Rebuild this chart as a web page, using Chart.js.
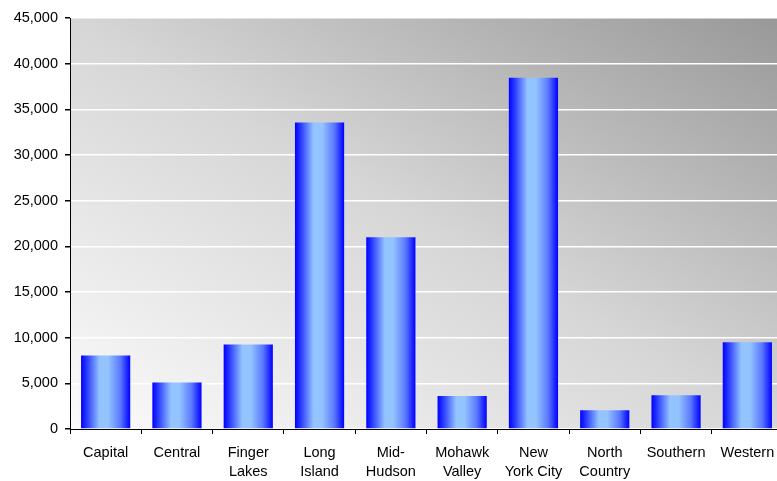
<!DOCTYPE html>
<html>
<head>
<meta charset="utf-8">
<script src="https://cdn.jsdelivr.net/npm/chart.js@4/dist/chart.umd.min.js"></script>
<style>
  html, body { margin: 0; padding: 0; background: #ffffff; overflow: hidden; }
  #wrap { position: relative; width: 785px; height: 481px; }
</style>
</head>
<body>
<div id="wrap"><canvas id="chart"></canvas></div>
<script>
// Regions and their totals
const regions = [
  ['Capital'], ['Central'], ['Finger', 'Lakes'], ['Long', 'Island'], ['Mid-', 'Hudson'],
  ['Mohawk', 'Valley'], ['New', 'York City'], ['North', 'Country'], ['Southern'], ['Western']
];
const totals = [8050, 5100, 9250, 33550, 21000, 3600, 38450, 2050, 3700, 9500];

const yMax = 45000;
const yStep = 5000;

const BAR_PCT = 0.69;

// Plot-area backdrop: light at bottom-left, grey toward top-right,
// laid out along the diagonal of the plot rectangle
const backdrop = {
  id: 'backdrop',
  beforeDraw(chart) {
    const { ctx, chartArea: a } = chart;
    const w = a.right - a.left, h = a.bottom - a.top;
    ctx.save();
    ctx.translate(a.left, a.top);
    ctx.scale(w, h);
    const g = ctx.createLinearGradient(0, 1, 1, 0);
    g.addColorStop(0, '#fbfbfb');
    g.addColorStop(0.5, '#d6d6d6');
    g.addColorStop(1, '#989898');
    ctx.fillStyle = g;
    ctx.fillRect(0, 0, 1, 1);
    ctx.restore();
  }
};

// Cylinder-like horizontal shading across each bar
function barFill(context) {
  const chart = context.chart;
  const xs = chart.scales && chart.scales.x;
  if (!chart.chartArea || !xs || context.dataIndex === undefined) return '#3366ff';
  const cx = xs.getPixelForValue(context.dataIndex);
  const half = (xs.width / regions.length) * BAR_PCT / 2;
  if (!isFinite(cx) || !isFinite(half)) return '#3366ff';
  const g = chart.ctx.createLinearGradient(cx - half, 0, cx + half, 0);
  g.addColorStop(0, '#0000ff');
  g.addColorStop(0.12, '#2a3cff');
  g.addColorStop(0.38, '#94c4ff');
  g.addColorStop(0.55, '#94c4ff');
  g.addColorStop(0.8, '#5a78ff');
  g.addColorStop(1, '#0000ff');
  return g;
}

new Chart(document.getElementById('chart'), {
  type: 'bar',
  data: {
    labels: regions,
    datasets: [{
      data: totals,
      backgroundColor: barFill,
      borderWidth: 0,
      barPercentage: BAR_PCT,
      categoryPercentage: 1.0
    }]
  },
  options: {
    responsive: true,
    maintainAspectRatio: false,
    animation: false,
    devicePixelRatio: 1,
    layout: { padding: { left: 0, right: 2, top: 18, bottom: 0 } },
    plugins: { legend: { display: false }, tooltip: { enabled: false } },
    scales: {
      x: {
        offset: true,
        grid: {
          offset: true,
          drawOnChartArea: false,
          drawTicks: true,
          tickLength: 5,
          tickColor: '#000000'
        },
        border: { display: true, color: '#000000', width: 1 },
        ticks: {
          color: '#000000',
          padding: 9,
          maxRotation: 0,
          autoSkip: false,
          font: { family: 'Liberation Sans, Arial, sans-serif', size: 14.5, lineHeight: 1.35 }
        },
        afterFit(scale) { scale.height = 52; }
      },
      y: {
        min: 0,
        max: yMax,
        grid: {
          color: '#ffffff',
          lineWidth: 1.5,
          drawTicks: true,
          tickLength: 5,
          tickColor: '#000000'
        },
        border: { display: true, color: '#000000', width: 1 },
        ticks: {
          stepSize: yStep,
          color: '#000000',
          padding: 7,
          font: { family: 'Liberation Sans, Arial, sans-serif', size: 14.5 },
          callback: v => v.toLocaleString('en-US')
        },
        afterFit(scale) { scale.width = 70; }
      }
    }
  },
  plugins: [backdrop]
});
</script>
</body>
</html>
